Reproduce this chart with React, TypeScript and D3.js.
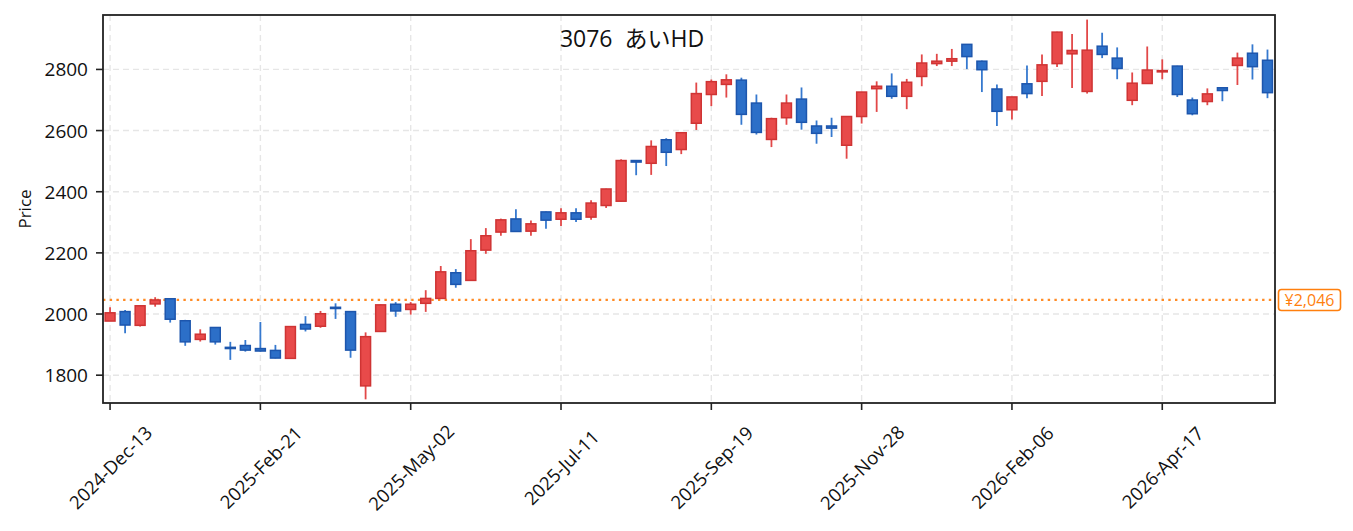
import React from 'react';
import * as d3 from 'd3';

// weekly candles, 2024-12-13 .. 2026-06
const opens = [1977, 2008, 1963, 2033, 2050, 1978, 1917, 1956, 1891, 1897, 1887, 1881, 1855, 1966, 1960, 2022, 2008, 1765, 1943, 2032, 2015, 2035, 2051, 2135, 2110, 2209, 2268, 2311, 2271, 2334, 2310, 2331, 2317, 2355, 2369, 2502, 2493, 2570, 2538, 2624, 2718, 2751, 2765, 2690, 2571, 2642, 2703, 2615, 2615, 2552, 2646, 2737, 2745, 2712, 2777, 2819, 2827, 2882, 2827, 2736, 2668, 2753, 2761, 2819, 2851, 2728, 2876, 2837, 2699, 2754, 2792, 2811, 2700, 2695, 2740, 2813, 2853, 2830];
const highs = [2022, 2013, 2028, 2055, 2052, 1981, 1950, 1957, 1909, 1915, 1974, 1899, 1960, 1993, 2010, 2035, 2008, 1940, 2031, 2039, 2039, 2078, 2157, 2147, 2245, 2281, 2312, 2343, 2306, 2335, 2346, 2346, 2372, 2410, 2506, 2503, 2568, 2575, 2594, 2757, 2767, 2784, 2773, 2718, 2642, 2718, 2741, 2633, 2642, 2647, 2727, 2761, 2787, 2769, 2849, 2851, 2867, 2883, 2829, 2751, 2711, 2813, 2849, 2923, 2916, 2963, 2920, 2872, 2790, 2875, 2833, 2812, 2708, 2738, 2741, 2855, 2882, 2865];
const lows = [1977, 1937, 1959, 2024, 1972, 1896, 1910, 1900, 1850, 1877, 1877, 1855, 1854, 1943, 1955, 1984, 1857, 1721, 1943, 1991, 1998, 2007, 2049, 2086, 2108, 2197, 2256, 2268, 2256, 2279, 2288, 2301, 2308, 2347, 2368, 2454, 2455, 2484, 2523, 2602, 2680, 2708, 2619, 2587, 2546, 2619, 2603, 2557, 2579, 2508, 2623, 2661, 2704, 2670, 2745, 2811, 2811, 2801, 2726, 2615, 2636, 2706, 2713, 2808, 2739, 2721, 2837, 2768, 2683, 2753, 2768, 2710, 2650, 2683, 2696, 2749, 2767, 2706];
const closes = [2004, 1964, 2027, 2046, 1983, 1909, 1934, 1909, 1889, 1882, 1879, 1856, 1959, 1951, 2001, 2020, 1882, 1926, 2030, 2010, 2032, 2051, 2138, 2097, 2207, 2256, 2308, 2270, 2295, 2307, 2331, 2310, 2363, 2409, 2502, 2497, 2548, 2529, 2593, 2721, 2760, 2766, 2653, 2594, 2639, 2690, 2627, 2591, 2608, 2646, 2726, 2745, 2712, 2758, 2821, 2827, 2835, 2842, 2799, 2663, 2710, 2721, 2815, 2922, 2862, 2863, 2849, 2803, 2755, 2798, 2796, 2718, 2655, 2720, 2731, 2837, 2809, 2724];

const tickIndex = [0, 10, 20, 30, 40, 50, 60, 70];
const tickLabels = ['2024-Dec-13', '2025-Feb-21', '2025-May-02', '2025-Jul-11', '2025-Sep-19', '2025-Nov-28', '2026-Feb-06', '2026-Apr-17'];
const yTicks = [1800, 2000, 2200, 2400, 2600, 2800];
const refPrice = 2046;
const title = '3076  あいHD';

const W = 1353;
const H = 531;
const margin = { top: 15, right: 78, bottom: 128, left: 103 };
const FONT = '"Open Sans", "Noto Sans CJK JP", sans-serif';

const UP_FILL = '#e84a4a';
const UP_EDGE = '#cf3434';
const DOWN_FILL = '#2c6fc8';
const DOWN_EDGE = '#1d56ad';

export default function App() {
  const x0 = margin.left;
  const x1 = W - margin.right;
  const y0 = margin.top;
  const y1 = H - margin.bottom;

  const x = d3.scaleLinear().domain([-0.47, opens.length - 0.5]).range([x0, x1]);
  const y = d3.scaleLinear().domain([1709, 2978]).range([y1, y0]);
  const step = x(1) - x(0);
  const bodyW = step * 0.66;

  return (
    <svg width={W} height={H} style={{ position: 'absolute', left: 0, top: 0, background: '#fff' }} fontFamily={FONT}>
      <rect x={0} y={0} width={W} height={H} fill="#fff" />

      {/* grid */}
      <g stroke="#e6e6e6" strokeWidth={1.4} strokeDasharray="6 4">
        {yTicks.map((t) => (
          <line key={'gy' + t} x1={x0} x2={x1} y1={y(t)} y2={y(t)} />
        ))}
        {tickIndex.map((i) => (
          <line key={'gx' + i} x1={x(i)} x2={x(i)} y1={y0} y2={y1} />
        ))}
      </g>

      {/* reference line */}
      <line x1={x0} x2={x1} y1={y(refPrice)} y2={y(refPrice)} stroke="#ff7f0e" strokeWidth={2.2} strokeDasharray="2.4 4.3" opacity={0.9} />

      {/* candles */}
      <g>
        {opens.map((o, i) => {
          const c = closes[i];
          const up = c >= o;
          const cx = x(i);
          const top = y(Math.max(o, c));
          const bot = y(Math.min(o, c));
          const h = Math.max(bot - top, 1.2);
          return (
            <g key={i}>
              <line x1={cx} x2={cx} y1={y(highs[i])} y2={y(lows[i])} stroke={up ? '#e24848' : '#3679cf'} strokeWidth={1.8} />
              <rect
                x={cx - bodyW / 2}
                y={top}
                width={bodyW}
                height={h}
                fill={up ? UP_FILL : DOWN_FILL}
                stroke={up ? UP_EDGE : DOWN_EDGE}
                strokeWidth={1.5}
              />
            </g>
          );
        })}
      </g>

      {/* frame */}
      <rect x={x0} y={y0} width={x1 - x0} height={y1 - y0} fill="none" stroke="#222" strokeWidth={1.8} />

      {/* y axis */}
      <g fontSize={19} fill="#111">
        {yTicks.map((t) => (
          <g key={'yt' + t}>
            <line x1={x0 - 7} x2={x0} y1={y(t)} y2={y(t)} stroke="#222" strokeWidth={1.6} />
            <text x={x0 - 15} y={y(t)} textAnchor="end" dominantBaseline="central">
              {t}
            </text>
          </g>
        ))}
      </g>
      <text transform={`translate(24, ${(y0 + y1) / 2}) rotate(-90)`} textAnchor="middle" dominantBaseline="central" fontSize={17} fill="#111">
        Price
      </text>

      {/* x axis */}
      <g fontSize={18.5} fill="#111">
        {tickIndex.map((i, k) => (
          <g key={'xt' + i}>
            <line x1={x(i)} x2={x(i)} y1={y1} y2={y1 + 7} stroke="#222" strokeWidth={1.6} />
            <text
              transform={`translate(${x(i)}, ${y1 + 64}) rotate(-45)`}
              textAnchor="middle"
              dominantBaseline="central"
            >
              {tickLabels[k]}
            </text>
          </g>
        ))}
      </g>

      {/* title */}
      <text x={632} y={47} textAnchor="middle" fontSize={23} fill="#111" style={{ whiteSpace: 'pre' }}>
        {title}
      </text>

      {/* price label */}
      <g>
        <rect x={x1 + 3.5} y={y(refPrice) - 10.5} width={62} height={21} rx={3} fill="#fff" stroke="#ff7f0e" strokeWidth={1.6} />
        <text x={x1 + 34.5} y={y(refPrice) + 0.5} textAnchor="middle" dominantBaseline="central" fontSize={16} fill="#ff7f0e">
          {'¥' + d3.format(',')(refPrice)}
        </text>
      </g>
    </svg>
  );
}
